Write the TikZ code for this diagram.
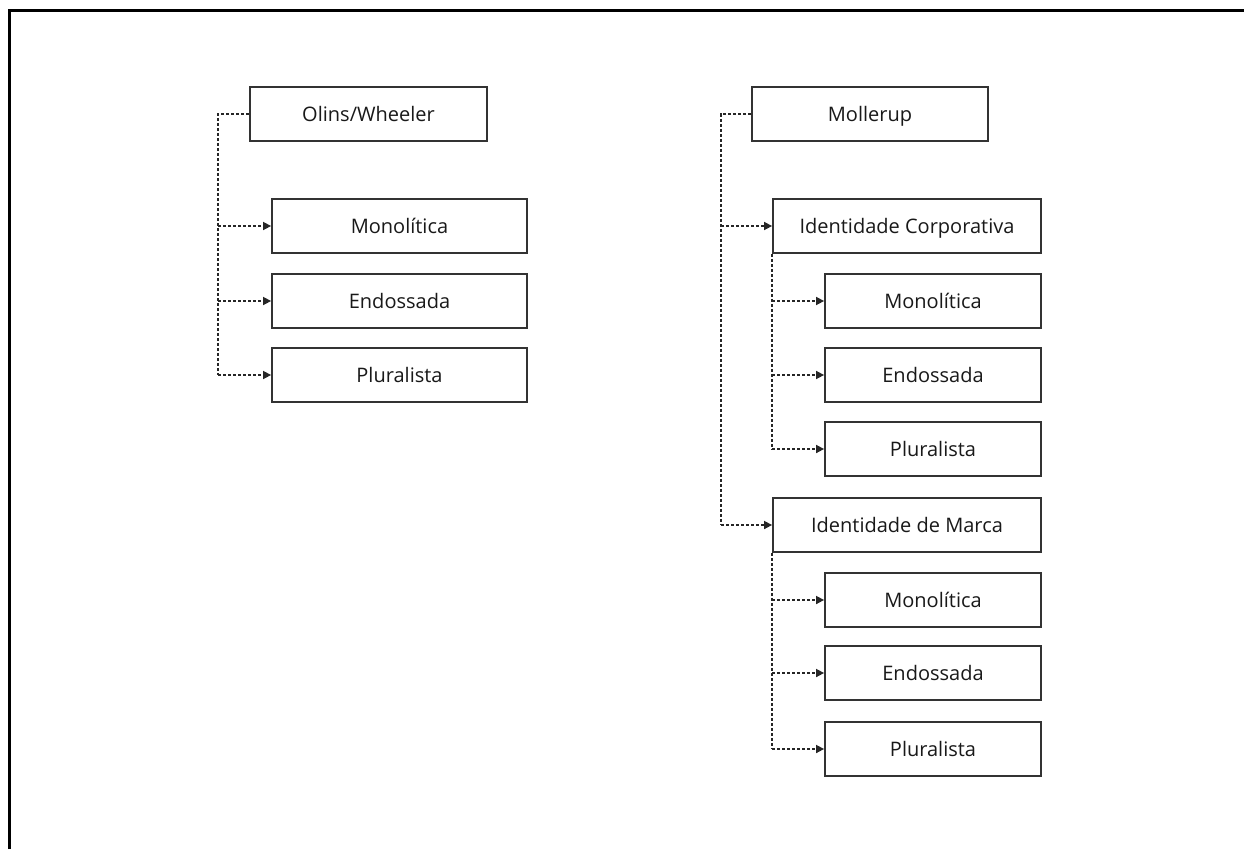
\documentclass[tikz,border=0pt]{standalone}
\usepackage{fontspec}
\setmainfont{Open Sans}
\usetikzlibrary{arrows.meta}
\tikzset{
  box/.style={draw=black!80, line width=1.8pt, fill=white, minimum height=54pt,
    inner sep=0pt, text height=14.5pt, text depth=0pt,
    font=\fontsize{20}{22}\selectfont, text=black!90},
  link/.style={draw=black!85, line width=1.6pt, dash pattern=on 3pt off 2pt},
  tip/.style={-{Triangle[length=8pt,width=8pt]}},
  frame/.style={draw=black, line width=3pt}
}
\begin{document}
\begin{tikzpicture}[x=1pt,y=-1pt]
\useasboundingbox (0,0) rectangle (1244,849);
% outer frame (top and left edges only)
\draw[frame] (9,849) -- (9,10) -- (1244,10);

% left tree
\node[box, minimum width=237pt] (ow) at (368.5,114) {Olins/Wheeler};
\node[box, minimum width=255pt] (m1) at (399.5,226) {Monolítica};
\node[box, minimum width=255pt] (e1) at (399.5,301) {Endossada};
\node[box, minimum width=255pt] (p1) at (399.5,375) {Pluralista};
\coordinate (tl) at (218,114);
\draw[link] (ow.west) -- (tl) -- (tl |- p1.west);
\foreach \n in {m1,e1,p1} \draw[link,tip] (tl |- \n.west) -- (\n.west);

% right tree
\node[box, minimum width=236pt] (mo) at (870,114) {Mollerup};
\node[box, minimum width=268pt] (ic) at (907,226) {Identidade Corporativa};
\node[box, minimum width=216pt] (m2) at (933,301) {Monolítica};
\node[box, minimum width=216pt] (e2) at (933,375) {Endossada};
\node[box, minimum width=216pt] (p2) at (933,449) {Pluralista};
\node[box, minimum width=268pt] (im) at (907,525) {Identidade de Marca};
\node[box, minimum width=216pt] (m3) at (933,600) {Monolítica};
\node[box, minimum width=216pt] (e3) at (933,673) {Endossada};
\node[box, minimum width=216pt] (p3) at (933,749) {Pluralista};
\coordinate (tr) at (721,114);
\draw[link] (mo.west) -- (tr) -- (tr |- im.west);
\foreach \n in {ic,im} \draw[link,tip] (tr |- \n.west) -- (\n.west);
\draw[link] (ic.south west) -- (ic.south west |- p2.west);
\foreach \n in {m2,e2,p2} \draw[link,tip] (ic.south west |- \n.west) -- (\n.west);
\draw[link] (im.south west) -- (im.south west |- p3.west);
\foreach \n in {m3,e3,p3} \draw[link,tip] (im.south west |- \n.west) -- (\n.west);
\end{tikzpicture}
\end{document}
